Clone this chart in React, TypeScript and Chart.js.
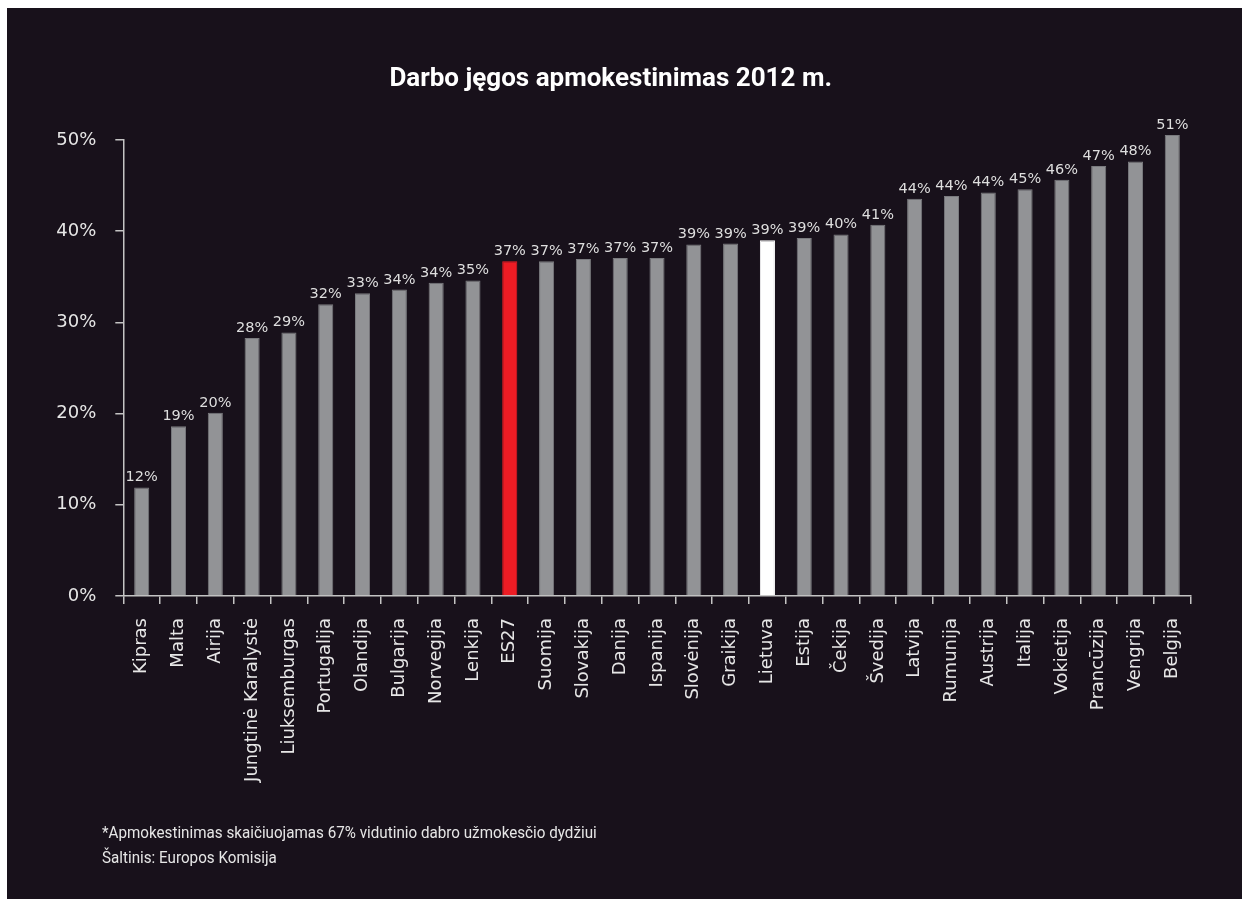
import React, { useEffect, useRef } from "react";
import { Chart, registerables } from "chart.js";

Chart.register(...registerables);

const titleText = "Darbo jęgos apmokestinimas 2012 m.";
const footnoteLines = [
  "*Apmokestinimas skaičiuojamas 67% vidutinio dabro užmokesčio dydžiui",
  "Šaltinis: Europos Komisija",
];

const categories = [
  "Kipras", "Malta", "Airija", "Jungtinė Karalystė", "Liuksemburgas", "Portugalija",
  "Olandija", "Bulgarija", "Norvegija", "Lenkija", "ES27", "Suomija", "Slovakija",
  "Danija", "Ispanija", "Slovėnija", "Graikija", "Lietuva", "Estija", "Čekija",
  "Švedija", "Latvija", "Rumunija", "Austrija", "Italija", "Vokietija", "Prancūzija",
  "Vengrija", "Belgija",
];

const values = [
  11.9, 18.6, 20.1, 28.3, 28.9, 32.0,
  33.2, 33.6, 34.35, 34.6, 36.7, 36.7, 36.95,
  37.05, 37.05, 38.55, 38.65, 39.0, 39.25, 39.65,
  40.7, 43.55, 43.85, 44.25, 44.6, 45.65, 47.15,
  47.65, 50.55,
];

const yTicks = [0, 10, 20, 30, 40, 50];

const BG = "#18111b";
const BAR_GREY = "#929396";
const BAR_EDGE = "#7a7b7f";
const RED = "#ed1c24";
const WHITE = "#ffffff";
const AXIS = "#c4c4c4";
const TEXT = "#e6e6e6";

const barFill = (c: string) => (c === "ES27" ? RED : c === "Lietuva" ? WHITE : BAR_GREY);
const barEdge = (c: string) => (c === "ES27" ? RED : c === "Lietuva" ? WHITE : BAR_EDGE);

const labelPlugin = {
  id: "barValueLabels",
  afterDatasetsDraw(chart: any) {
    const ctx = chart.ctx;
    const meta = chart.getDatasetMeta(0);
    const data = chart.data.datasets[0].data as number[];
    ctx.save();
    ctx.fillStyle = "#dedede";
    ctx.font = "14.5px 'DejaVu Sans'";
    ctx.textAlign = "center";
    ctx.textBaseline = "alphabetic";
    meta.data.forEach((el: any, i: number) => {
      ctx.fillText(Math.round(data[i]) + "%", el.x, el.y - 6);
    });
    ctx.restore();
  },
};

export default function App() {
  const canvasRef = useRef<HTMLCanvasElement | null>(null);

  useEffect(() => {
    if (!canvasRef.current) return;
    const chart = new Chart(canvasRef.current, {
      type: "bar",
      data: {
        labels: categories,
        datasets: [
          {
            data: values,
            backgroundColor: categories.map(barFill),
            borderColor: categories.map(barEdge),
            borderWidth: 1,
            barPercentage: 0.41,
            categoryPercentage: 1,
            clip: false as any,
          },
        ],
      },
      options: {
        responsive: false,
        animation: false,
        devicePixelRatio: 1,
        layout: { padding: { top: 132, right: 51.3, left: 0, bottom: 0 } },
        plugins: {
          legend: { display: false },
          tooltip: { enabled: false },
          title: { display: false },
        },
        scales: {
          x: {
            offset: true,
            grid: {
              display: true,
              drawOnChartArea: false,
              drawTicks: true,
              tickLength: 8,
              color: AXIS,
              lineWidth: 1.5,
              offset: true,
            },
            border: { display: true, color: AXIS, width: 1.5 },
            ticks: {
              color: TEXT,
              font: { family: "'DejaVu Sans'", size: 18 },
              minRotation: 90,
              maxRotation: 90,
              padding: 14,
              autoSkip: false,
            },
            afterFit: (s: any) => {
              s.height = 303;
            },
          },
          y: {
            min: 0,
            max: 50,
            afterBuildTicks: (s: any) => {
              s.ticks = yTicks.map((v) => ({ value: v }));
            },
            grid: {
              display: true,
              drawOnChartArea: false,
              drawTicks: true,
              tickLength: 8,
              color: AXIS,
              lineWidth: 1.5,
            },
            border: { display: true, color: AXIS, width: 1.5 },
            ticks: {
              color: TEXT,
              font: { family: "'DejaVu Sans'", size: 18 },
              padding: 19,
              callback: (v: any) => v + "%",
            },
            afterFit: (s: any) => {
              s.width = 116.3;
            },
          },
        },
      },
      plugins: [labelPlugin],
    });
    return () => chart.destroy();
  }, []);

  return (
    <div style={{ position: "absolute", left: 0, top: 0, width: 1249, height: 907, background: "#ffffff" }}>
      <div style={{ position: "absolute", left: 7, top: 8, width: 1235, height: 891, background: BG, overflow: "hidden" }}>
        <canvas ref={canvasRef} width={1235} height={891} style={{ position: "absolute", left: 0, top: 0, width: 1235, height: 891 }} />
        <div
          style={{
            position: "absolute",
            left: 103.7,
            top: 56.1,
            width: 1000,
            textAlign: "center",
            fontFamily: "Roboto, 'DejaVu Sans', sans-serif",
            fontWeight: 700,
            fontSize: 26,
            lineHeight: "26px",
            color: "#ffffff",
            whiteSpace: "nowrap",
          }}
        >
          {titleText}
        </div>
        <div
          style={{
            position: "absolute",
            left: 94.7,
            top: 811.7,
            fontFamily: "Roboto, 'DejaVu Sans', sans-serif",
            fontSize: 17,
            lineHeight: "25px",
            color: "#e6e6e6",
            whiteSpace: "nowrap",
            transform: "scaleX(0.894)",
            transformOrigin: "0 0",
          }}
        >
          {footnoteLines.map((l) => (
            <div key={l}>{l}</div>
          ))}
        </div>
      </div>
    </div>
  );
}
